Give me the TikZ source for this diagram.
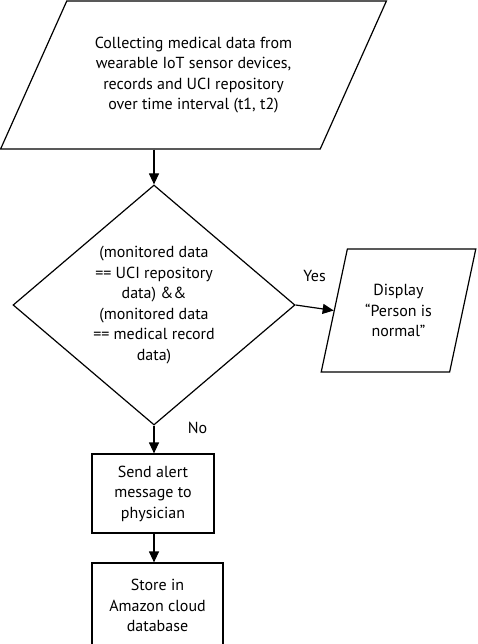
\documentclass[tikz,border=0pt]{standalone}
\usepackage{fontspec}
\setmainfont{PT Sans}
\usetikzlibrary{shapes.geometric,arrows.meta}

\begin{document}
\begin{tikzpicture}[x=1pt, y=1pt, line width=1.2pt,
  font=\fontsize{16}{20.5}\selectfont,
  io/.style={draw, trapezium, trapezium stretches=true, align=center, inner sep=0pt},
  decision/.style={draw, diamond, align=center, inner sep=0pt},
  block/.style={draw, align=center, inner sep=0pt},
  flow/.style={-{Triangle[length=11pt, width=10pt]}}]

  \useasboundingbox (0,0) rectangle (477,-644);

  % Input
  \node[io, trapezium left angle=56, trapezium right angle=124, minimum width=386pt, minimum height=148pt] (collect) at (193.5,-75) {Collecting medical data from\\wearable IoT sensor devices,\\records and UCI repository\\over time interval (t1, t2)};

  % Check
  \node[decision, minimum width=282pt, minimum height=240pt] (check) at (154,-305) {(monitored data\\== UCI repository\\data) \&\&\\(monitored data\\== medical record\\data)};

  % Output
  \node[io, trapezium left angle=72, trapezium right angle=108, minimum width=155pt, minimum height=123pt] (display) at (398.5,-310.5) {Display\\``Person is\\normal''};

  % Actions
  \node[block, minimum width=122pt, minimum height=79pt] (alert) at (153,-493.5) {Send alert\\message to\\physician};
  \node[block, minimum width=131pt, minimum height=85pt] (store) at (157.5,-605.5) {Store in\\Amazon cloud\\database};

  % Arrows
  \draw[flow] (collect.south -| check.north) -- (check.north);
  \draw[flow] (check.east) -- (display.west) node[midway, above=22pt] (yes) {Yes};
  \draw[flow] (check.south) -- (check.south |- alert.north) node[pos=0.1, right=30pt] (no) {No};
  \draw[flow] (alert.south -| check.south) -- (check.south |- store.north);

\end{tikzpicture}
\end{document}
